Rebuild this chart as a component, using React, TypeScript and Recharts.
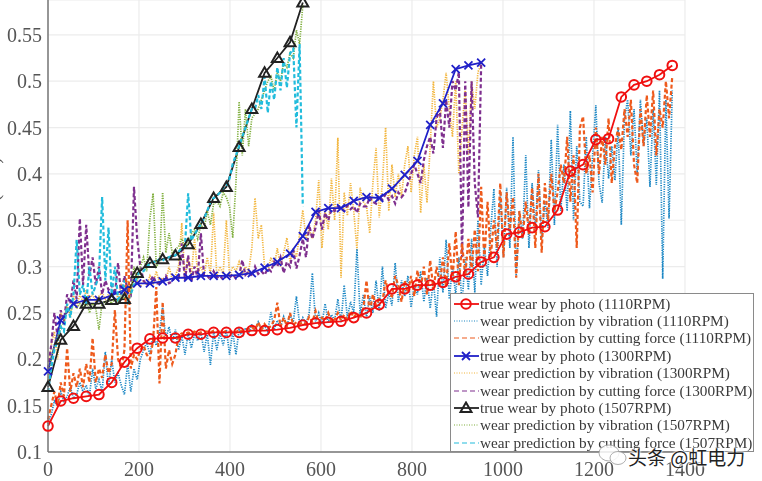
import React from 'react';
import { LineChart, Line, XAxis, YAxis, CartesianGrid, Legend } from 'recharts';

const photoStep = 28;
const predStep = 7;

const xTicks = [0, 200, 400, 600, 800, 1000, 1200, 1400];
const yTicks = [0.1, 0.15, 0.2, 0.25, 0.3, 0.35, 0.4, 0.45, 0.5, 0.55];

const true1110 = [
    0.128, 0.155, 0.158, 0.16, 0.162, 0.175, 0.197, 0.212, 0.222, 0.223,
    0.223, 0.227, 0.227, 0.229, 0.229, 0.229, 0.231, 0.231, 0.232, 0.234,
    0.237, 0.239, 0.24, 0.241, 0.245, 0.25, 0.259, 0.276, 0.276, 0.28,
    0.28, 0.283, 0.289, 0.292, 0.305, 0.31, 0.335, 0.337, 0.342, 0.343,
    0.361, 0.403, 0.41, 0.437, 0.438, 0.483, 0.496, 0.5, 0.507, 0.517
];
const true1300 = [
    0.187, 0.242, 0.26, 0.264, 0.264, 0.269, 0.275, 0.282, 0.282, 0.284,
    0.288, 0.288, 0.29, 0.29, 0.29, 0.291, 0.293, 0.299, 0.305, 0.314,
    0.333, 0.359, 0.363, 0.363, 0.371, 0.375, 0.374, 0.384, 0.399, 0.414,
    0.453, 0.476, 0.513, 0.517, 0.52
];
const true1507 = [
    0.17, 0.221, 0.236, 0.26, 0.26, 0.264, 0.265, 0.293, 0.304, 0.308,
    0.312, 0.324, 0.346, 0.374, 0.386, 0.429, 0.47, 0.509, 0.525, 0.542,
    0.585
];

const vib1110 = [
    0.13, 0.14, 0.155, 0.15, 0.165, 0.155, 0.16, 0.17, 0.158, 0.162,
    0.175, 0.165, 0.172, 0.16, 0.19, 0.168, 0.178, 0.165, 0.208, 0.17,
    0.2, 0.175, 0.185, 0.172, 0.162, 0.195, 0.165, 0.19, 0.178, 0.2,
    0.21, 0.218, 0.205, 0.225, 0.215, 0.228, 0.257, 0.222, 0.235, 0.218,
    0.232, 0.21, 0.226, 0.205, 0.228, 0.212, 0.227, 0.22, 0.23, 0.208,
    0.228, 0.194, 0.23, 0.21, 0.229, 0.215, 0.232, 0.205, 0.23, 0.205,
    0.232, 0.224, 0.234, 0.228, 0.238, 0.23, 0.24, 0.232, 0.236, 0.23,
    0.251, 0.232, 0.242, 0.235, 0.246, 0.236, 0.248, 0.24, 0.268, 0.238,
    0.245, 0.238, 0.25, 0.293, 0.24, 0.25, 0.238, 0.26, 0.24, 0.248,
    0.242, 0.265, 0.24, 0.28, 0.245, 0.262, 0.25, 0.319, 0.248, 0.27,
    0.245, 0.268, 0.25, 0.285, 0.252, 0.3, 0.255, 0.272, 0.258, 0.304,
    0.262, 0.285, 0.268, 0.29, 0.256, 0.28, 0.27, 0.295, 0.262, 0.288,
    0.255, 0.285, 0.246, 0.31, 0.272, 0.329, 0.265, 0.3, 0.27, 0.31,
    0.26, 0.31, 0.275, 0.33, 0.272, 0.35, 0.28, 0.322, 0.29, 0.34,
    0.384, 0.3, 0.38, 0.31, 0.385, 0.32, 0.44, 0.29, 0.36, 0.33,
    0.42, 0.32, 0.39, 0.34, 0.404, 0.33, 0.37, 0.342, 0.437, 0.345,
    0.453, 0.36, 0.41, 0.36, 0.468, 0.35, 0.43, 0.37, 0.365, 0.44,
    0.363, 0.42, 0.474, 0.39, 0.369, 0.44, 0.395, 0.43, 0.393, 0.45,
    0.345, 0.46, 0.48, 0.42, 0.47, 0.4, 0.48, 0.43, 0.46, 0.386,
    0.47, 0.388, 0.49, 0.287, 0.48, 0.352, 0.49
];
const cut1110 = [
    0.135, 0.15, 0.165, 0.15, 0.175, 0.16, 0.212, 0.165, 0.185, 0.17,
    0.19, 0.17, 0.195, 0.175, 0.223, 0.175, 0.19, 0.18, 0.205, 0.185,
    0.195, 0.253, 0.2, 0.19, 0.21, 0.35, 0.19, 0.205, 0.2, 0.21,
    0.215, 0.205, 0.2, 0.22, 0.278, 0.174, 0.262, 0.19, 0.21, 0.195,
    0.205, 0.226, 0.228, 0.227, 0.229, 0.228, 0.23, 0.228, 0.229, 0.23,
    0.23, 0.229, 0.231, 0.23, 0.23, 0.229, 0.231, 0.23, 0.23, 0.229,
    0.232, 0.23, 0.232, 0.233, 0.235, 0.232, 0.24, 0.232, 0.238, 0.233,
    0.236, 0.242, 0.261, 0.235, 0.245, 0.236, 0.25, 0.237, 0.24, 0.238,
    0.24, 0.238, 0.246, 0.24, 0.252, 0.239, 0.245, 0.242, 0.25, 0.24,
    0.243, 0.25, 0.242, 0.248, 0.243, 0.252, 0.245, 0.25, 0.244, 0.255,
    0.285, 0.25, 0.27, 0.258, 0.265, 0.262, 0.285, 0.27, 0.268, 0.29,
    0.28, 0.262, 0.285, 0.272, 0.29, 0.268, 0.296, 0.275, 0.3, 0.27,
    0.307, 0.275, 0.3, 0.28, 0.31, 0.278, 0.325, 0.285, 0.338, 0.28,
    0.325, 0.29, 0.33, 0.295, 0.34, 0.295, 0.386, 0.305, 0.37, 0.31,
    0.35, 0.32, 0.39, 0.31, 0.38, 0.34, 0.375, 0.288, 0.36, 0.33,
    0.37, 0.335, 0.385, 0.32, 0.4, 0.315, 0.39, 0.35, 0.4, 0.36,
    0.38, 0.41, 0.39, 0.44, 0.37, 0.42, 0.32, 0.45, 0.462, 0.4,
    0.42, 0.38, 0.45, 0.4, 0.44, 0.41, 0.46, 0.39, 0.43, 0.45,
    0.426, 0.47, 0.44, 0.48, 0.41, 0.39, 0.47, 0.43, 0.485, 0.44,
    0.49, 0.42, 0.47, 0.45, 0.5, 0.46, 0.505
];

const vib1300 = [
    0.185, 0.215, 0.23, 0.2, 0.25, 0.24, 0.26, 0.245, 0.27, 0.255,
    0.27, 0.262, 0.275, 0.265, 0.27, 0.262, 0.268, 0.272, 0.265, 0.27,
    0.27, 0.275, 0.265, 0.28, 0.272, 0.285, 0.275, 0.28, 0.285, 0.278,
    0.285, 0.28, 0.29, 0.282, 0.295, 0.283, 0.288, 0.284, 0.3, 0.286,
    0.29, 0.3, 0.347, 0.288, 0.31, 0.29, 0.33, 0.292, 0.3, 0.29,
    0.31, 0.292, 0.358, 0.29, 0.3, 0.292, 0.35, 0.29, 0.3, 0.295,
    0.305, 0.292, 0.3, 0.295, 0.32, 0.374, 0.33, 0.345, 0.3, 0.295,
    0.31, 0.3, 0.32, 0.3, 0.315, 0.331, 0.305, 0.32, 0.31, 0.335,
    0.361, 0.33, 0.34, 0.33, 0.35, 0.393, 0.32, 0.36, 0.34, 0.395,
    0.35, 0.439, 0.288, 0.38, 0.355, 0.39, 0.36, 0.318, 0.385, 0.37,
    0.365, 0.336, 0.39, 0.428, 0.353, 0.39, 0.45, 0.36, 0.41, 0.375,
    0.4, 0.375, 0.41, 0.43, 0.38, 0.42, 0.44, 0.358, 0.41, 0.369,
    0.43, 0.5, 0.45, 0.46, 0.48, 0.509, 0.47, 0.44, 0.5, 0.4,
    0.45, 0.49, 0.42, 0.5, 0.47, 0.51, 0.518
];
const cut1300 = [
    0.19, 0.215, 0.25, 0.225, 0.253, 0.24, 0.27, 0.26, 0.285, 0.265,
    0.352, 0.28, 0.345, 0.29, 0.31, 0.28, 0.3, 0.27, 0.285, 0.275,
    0.28, 0.27, 0.304, 0.268, 0.29, 0.275, 0.27, 0.386, 0.33, 0.3,
    0.285, 0.28, 0.283, 0.29, 0.282, 0.282, 0.284, 0.29, 0.282, 0.284,
    0.29, 0.285, 0.325, 0.285, 0.312, 0.284, 0.3, 0.288, 0.336, 0.29,
    0.29, 0.286, 0.295, 0.288, 0.29, 0.286, 0.29, 0.288, 0.292, 0.287,
    0.29, 0.307, 0.291, 0.295, 0.29, 0.3, 0.292, 0.295, 0.291, 0.298,
    0.295, 0.305, 0.3, 0.31, 0.293, 0.305, 0.3, 0.318, 0.298, 0.312,
    0.33, 0.31, 0.345, 0.33, 0.342, 0.36, 0.34, 0.358, 0.35, 0.362,
    0.36, 0.365, 0.362, 0.36, 0.366, 0.362, 0.365, 0.358, 0.368, 0.365,
    0.365, 0.375, 0.37, 0.368, 0.376, 0.372, 0.378, 0.372, 0.376, 0.368,
    0.38, 0.375, 0.379, 0.39, 0.4, 0.41, 0.4, 0.39, 0.415, 0.43,
    0.44, 0.422, 0.46, 0.47, 0.428, 0.48, 0.45, 0.5, 0.49, 0.51,
    0.31, 0.5, 0.364, 0.5, 0.39, 0.353, 0.518
];

const vib1507 = [
    0.175, 0.2, 0.215, 0.225, 0.235, 0.24, 0.255, 0.25, 0.26, 0.255,
    0.26, 0.255, 0.265, 0.25, 0.26, 0.255, 0.232, 0.262, 0.26, 0.265,
    0.26, 0.265, 0.262, 0.27, 0.265, 0.28, 0.27, 0.3, 0.285, 0.3,
    0.31, 0.295, 0.352, 0.379, 0.3, 0.305, 0.38, 0.315, 0.336, 0.315,
    0.318, 0.322, 0.33, 0.32, 0.325, 0.335, 0.34, 0.33, 0.345, 0.34,
    0.36, 0.345, 0.368, 0.37, 0.365, 0.38, 0.375, 0.364, 0.331, 0.39,
    0.478, 0.42, 0.47, 0.43, 0.46, 0.465, 0.47, 0.48, 0.49, 0.5,
    0.505, 0.49, 0.51, 0.5, 0.52, 0.515, 0.53, 0.525, 0.555, 0.54,
    0.582
];
const cut1507 = [
    0.165, 0.19, 0.21, 0.22, 0.235, 0.23, 0.26, 0.245, 0.27, 0.329,
    0.27, 0.28, 0.26, 0.3, 0.27, 0.28, 0.29, 0.375, 0.285, 0.342,
    0.27, 0.3, 0.265, 0.27, 0.285, 0.262, 0.27, 0.28, 0.29, 0.295,
    0.295, 0.3, 0.303, 0.305, 0.305, 0.308, 0.306, 0.31, 0.31, 0.312,
    0.312, 0.316, 0.32, 0.322, 0.379, 0.328, 0.335, 0.34, 0.346, 0.352,
    0.36, 0.37, 0.374, 0.376, 0.38, 0.385, 0.387, 0.395, 0.411, 0.42,
    0.43, 0.44, 0.45, 0.46, 0.47, 0.47, 0.485, 0.47, 0.505, 0.466,
    0.5, 0.48, 0.515, 0.49, 0.525, 0.493, 0.53, 0.535, 0.45, 0.54,
    0.365
];

const toPoints = (values: number[], step: number) =>
    values.map((wear, i) => ({ cycle: i * step, wear }));

const COLORS = {
    red: '#f01010',
    blue: '#2020c8',
    black: '#222222',
    vib1110: '#1a86c4',
    cut1110: '#ee5a1c',
    vib1300: '#f2b53c',
    cut1300: '#7e2f8e',
    vib1507: '#7fae3c',
    cut1507: '#22bcdc'
};

const serif = '"Liberation Serif", serif';
const axisGrey = '#555555';

const CircleDot = ({ cx, cy }: any) => (
    <circle cx={cx} cy={cy} r={4.8} fill="none" stroke={COLORS.red} strokeWidth={2} />
);
const CrossDot = ({ cx, cy }: any) => (
    <path
        d={`M${cx - 4},${cy - 4}L${cx + 4},${cy + 4}M${cx - 4},${cy + 4}L${cx + 4},${cy - 4}`}
        stroke={COLORS.blue}
        strokeWidth={1.8}
        fill="none"
    />
);
const TriangleDot = ({ cx, cy }: any) => (
    <path
        d={`M${cx},${cy - 5.5}L${cx + 5.5},${cy + 4}L${cx - 5.5},${cy + 4}Z`}
        stroke={COLORS.black}
        strokeWidth={2}
        fill="none"
    />
);

const legendRows = [
    { label: 'true wear by photo (1110RPM)', color: COLORS.red, dash: '', marker: 'circle' },
    { label: 'wear prediction by vibration (1110RPM)', color: COLORS.vib1110, dash: '1 1.5', marker: '' },
    { label: 'wear prediction by cutting force (1110RPM)', color: COLORS.cut1110, dash: '5 3', marker: '' },
    { label: 'true wear by photo (1300RPM)', color: COLORS.blue, dash: '', marker: 'cross' },
    { label: 'wear prediction by vibration (1300RPM)', color: COLORS.vib1300, dash: '1 1.5', marker: '' },
    { label: 'wear prediction by cutting force (1300RPM)', color: COLORS.cut1300, dash: '5 3', marker: '' },
    { label: 'true wear by photo (1507RPM)', color: COLORS.black, dash: '', marker: 'triangle' },
    { label: 'wear prediction by vibration (1507RPM)', color: COLORS.vib1507, dash: '1 1.5', marker: '' },
    { label: 'wear prediction by cutting force (1507RPM)', color: COLORS.cut1507, dash: '5 3', marker: '' }
];

const LegendBox = () => (
    <div
        style={{
            boxSizing: 'border-box',
            width: 304,
            height: 159,
            background: '#fff',
            border: '1.5px solid #8a8a8a',
            paddingTop: 1,
            fontFamily: serif,
            fontSize: 15.25,
            color: '#3a3a3a',
            whiteSpace: 'nowrap'
        }}
    >
        {legendRows.map(row => (
            <div key={row.label} style={{ display: 'flex', alignItems: 'center', height: 17.4 }}>
                <svg width={29} height={14} style={{ flex: 'none' }}>
                    <line x1={3} x2={28} y1={7} y2={7} stroke={row.color} strokeWidth={row.dash ? 1.2 : 1.8} strokeDasharray={row.dash} />
                    {row.marker === 'circle' && <CircleDot cx={15} cy={7} />}
                    {row.marker === 'cross' && <CrossDot cx={15} cy={7} />}
                    {row.marker === 'triangle' && <TriangleDot cx={15} cy={7} />}
                </svg>
                <span>{row.label}</span>
            </div>
        ))}
    </div>
);

const YLabel = () => (
    <text
        transform="translate(-1,222) rotate(-90)"
        textAnchor="middle"
        fontFamily={serif}
        fontSize={20}
        fill={axisGrey}
    >
        Tool wear (mm)
    </text>
);

const predictionLine = (values: number[], color: string, kind: 'vib' | 'cut', name: string) => (
    <Line
        key={name}
        name={name}
        data={toPoints(values, predStep)}
        dataKey="wear"
        stroke={color}
        strokeWidth={kind === 'vib' ? 1.7 : 2.2}
        strokeDasharray={kind === 'vib' ? '1.2 1.2' : '4 2.5'}
        dot={false}
        activeDot={false}
        isAnimationActive={false}
    />
);

const photoLine = (values: number[], color: string, Marker: React.FC<any>, name: string) => (
    <Line
        key={name}
        name={name}
        data={toPoints(values, photoStep)}
        dataKey="wear"
        stroke={color}
        strokeWidth={1.8}
        dot={(p: any) => <Marker key={p.index} cx={p.cx} cy={p.cy} />}
        activeDot={false}
        isAnimationActive={false}
    />
);

const App: React.FC = () => {
    const tickStyle = { fontFamily: serif, fontSize: 20, fill: axisGrey };

    return (
        <div style={{ position: 'absolute', left: 0, top: 0, width: 762, height: 481, overflow: 'hidden', background: '#fff' }}>
            <div style={{ filter: 'blur(0.45px)' }}>
                <LineChart width={762} height={481} margin={{ top: 0, right: 77, bottom: 0, left: 0 }}>
                    <CartesianGrid stroke="#ececec" strokeWidth={1.2} />
                    <XAxis
                        type="number"
                        dataKey="cycle"
                        domain={[0, 1400]}
                        ticks={xTicks}
                        height={29}
                        interval={0}
                        allowDuplicatedCategory={false}
                        tick={tickStyle}
                        tickLine={false}
                        tickMargin={4}
                        stroke="#777777"
                        strokeWidth={1.5}
                    />
                    <YAxis
                        type="number"
                        domain={[0.1, 0.5876]}
                        ticks={yTicks}
                        width={48}
                        interval={0}
                        allowDataOverflow
                        tick={tickStyle}
                        tickFormatter={(v: number) => String(v)}
                        tickLine={false}
                        tickMargin={0}
                        stroke="#777777"
                        strokeWidth={1.5}
                        label={<YLabel />}
                    />
                    {predictionLine(vib1300, COLORS.vib1300, 'vib', 'vib1300')}
                    {predictionLine(cut1300, COLORS.cut1300, 'cut', 'cut1300')}
                    {photoLine(true1300, COLORS.blue, CrossDot, 'true1300')}
                    {photoLine(true1507, COLORS.black, TriangleDot, 'true1507')}
                    {predictionLine(vib1507, COLORS.vib1507, 'vib', 'vib1507')}
                    {predictionLine(cut1507, COLORS.cut1507, 'cut', 'cut1507')}
                    {predictionLine(vib1110, COLORS.vib1110, 'vib', 'vib1110')}
                    {predictionLine(cut1110, COLORS.cut1110, 'cut', 'cut1110')}
                    {photoLine(true1110, COLORS.red, CircleDot, 'true1110')}
                    <Legend
                        layout="horizontal"
                        verticalAlign="middle"
                        content={<LegendBox />}
                        wrapperStyle={{ left: 450, top: 293, width: 304, height: 159, margin: 0 }}
                    />
                </LineChart>
            </div>
            {/* watermark over the bottom right corner */}
            <svg width={32} height={26} style={{ position: 'absolute', left: 597, top: 442 }}>
                <ellipse cx={12} cy={11} rx={10} ry={8} fill="#fff" fillOpacity={0.85} stroke="#999" strokeWidth={0.8} />
                <ellipse cx={21} cy={16} rx={8} ry={6.5} fill="#fff" fillOpacity={0.85} stroke="#999" strokeWidth={0.8} />
            </svg>
            <div
                style={{
                    position: 'absolute',
                    left: 628,
                    top: 444,
                    fontFamily: '"Noto Sans CJK SC", sans-serif',
                    fontSize: 19,
                    lineHeight: '26px',
                    color: '#222',
                    whiteSpace: 'nowrap',
                    textShadow: '0 0 2px #fff, 0 0 2px #fff, 0 0 3px #fff'
                }}
            >
                头条 @虹电力
            </div>
        </div>
    );
};

export default App;
